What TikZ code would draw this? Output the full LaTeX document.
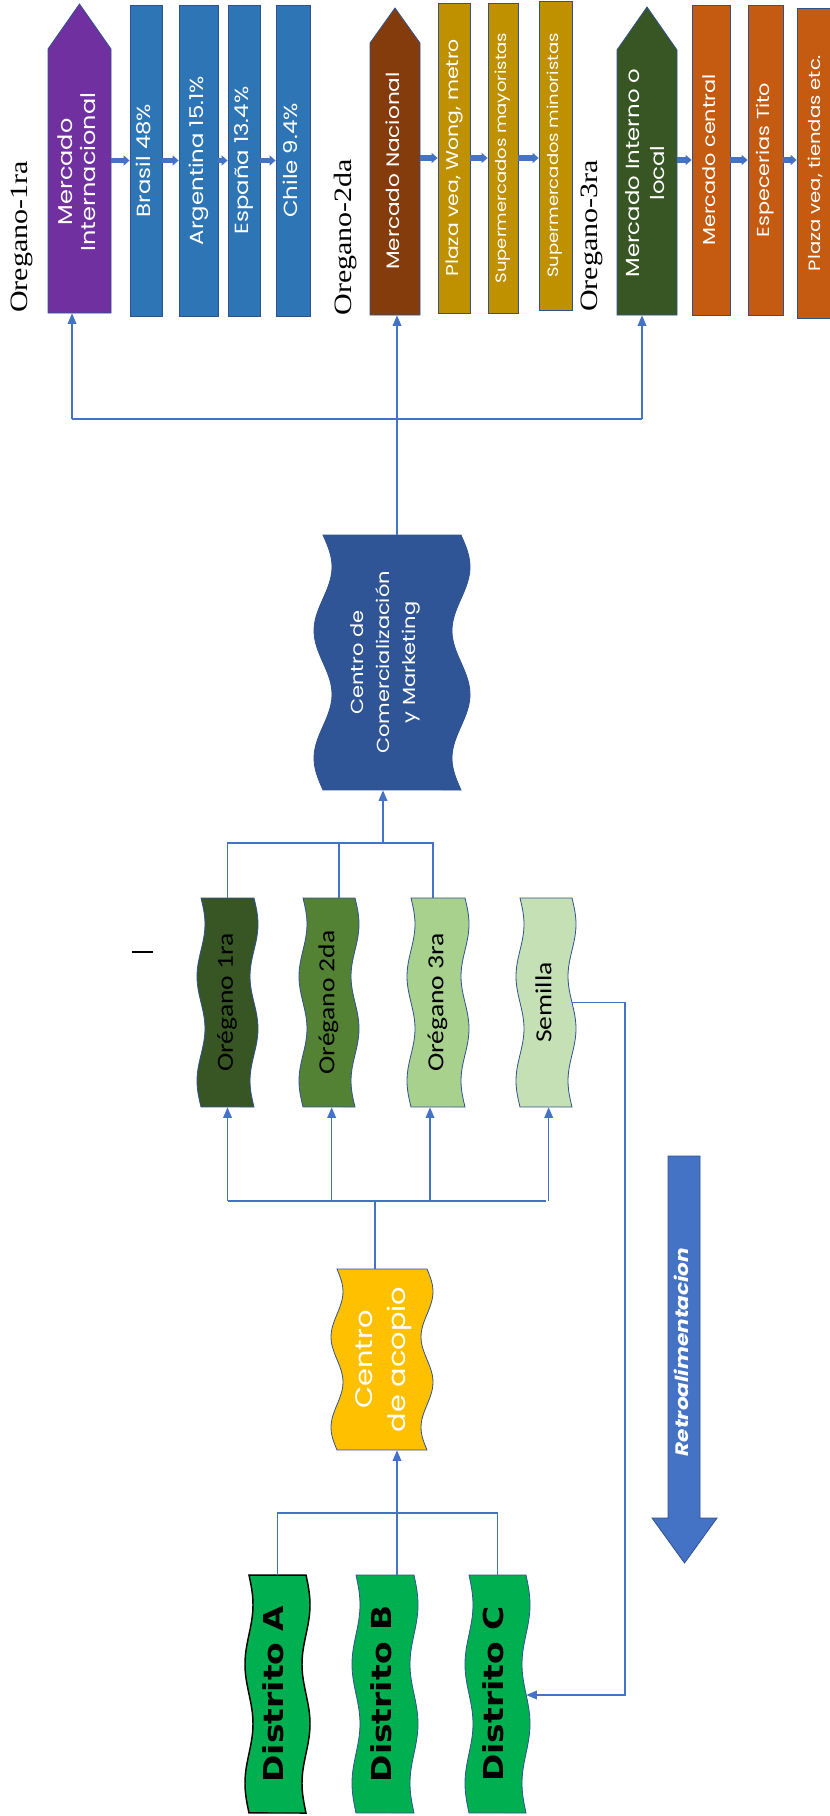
\documentclass[tikz,border=0pt]{standalone}
\usepackage{fontspec}
\usepackage{graphicx}
\usetikzlibrary{arrows.meta, positioning, calc}

\newfontfamily\poppins{Poppins}
\newfontfamily\carlito{Carlito}
\newfontfamily\dejavu{DejaVu Sans}
\newfontfamily\libserif{Liberation Serif}

\definecolor{cPurple}{HTML}{7030A0}
\definecolor{cBlue}{HTML}{2E75B6}
\definecolor{cBrown}{HTML}{843C0C}
\definecolor{cGold}{HTML}{BF9000}
\definecolor{cDkGreen}{HTML}{375623}
\definecolor{cOrange}{HTML}{C55A11}
\definecolor{cNavy}{HTML}{2F5597}
\definecolor{cGreenA}{HTML}{375623}
\definecolor{cGreenB}{HTML}{548235}
\definecolor{cGreenC}{HTML}{A9D18E}
\definecolor{cGreenD}{HTML}{C5E0B4}
\definecolor{cAmber}{HTML}{FFC000}
\definecolor{cDist}{HTML}{00B050}
\definecolor{cLink}{HTML}{4472C4}
\definecolor{cEdge}{HTML}{2F528F}

% text turned to read bottom-up, a little stretched
\newcommand{\vtext}[1]{\rotatebox{90}{\scalebox{1.2}[1]{\begin{tabular}{@{}c@{}}#1\end{tabular}}}}
\newcommand{\fsz}[2]{\fontsize{#1}{#2}\selectfont}

% wave box: name, x1, x2, y1, y2, amplitude, shape style, node style, text
\newcommand{\wavenode}[9]{%
  \draw[#7] plot[variable=\t, domain=0:1, samples=49, smooth] ({#2+#6*sin(720*\t)}, {#4+(#5-#4)*\t})
    -- plot[variable=\t, domain=1:0, samples=49, smooth] ({#3+#6*sin(720*\t)}, {#4+(#5-#4)*\t}) -- cycle;
  \node[wtext, #8, minimum width={(#3-#2)*0.75pt}, minimum height={(#5-#4)*0.75pt}] (#1) at ({(#2+#3)/2}, {(#4+#5)/2}) {#9};
}

\begin{document}
\begin{tikzpicture}[
        x=0.75pt, y=-0.75pt,
        box/.style={rectangle, draw=cEdge, line width=0.6pt, inner sep=0pt, text=white},
        mtext/.style={rectangle, inner sep=0pt, text=white},
        wtext/.style={rectangle, inner sep=0pt},
        edge/.style={draw=cEdge, line width=0.6pt},
        grade/.style={inner sep=0pt, font=\libserif\fsz{18.75pt}{22pt}},
        link/.style={draw=cLink, line width=1.1pt},
        arr/.style={link, -{Triangle[length=8pt, width=6.5pt]}},
        flow/.style={draw=cLink, line width=3.8pt, -{Triangle[length=4.5pt, width=7.5pt]}}
    ]
        \useasboundingbox (0,0) rectangle (830,1816);

        % markets (top row)
        \draw[edge, fill=cPurple] (48,313) -- (48,49) -- (79.5,4) -- (111,49) -- (111,313) -- cycle;
        \draw[edge, fill=cBrown] (370,315) -- (370,43) -- (395,8) -- (420,43) -- (420,315) -- cycle;
        \draw[edge, fill=cDkGreen] (617,315) -- (617,50) -- (647,7) -- (677,50) -- (677,315) -- cycle;

        \node[mtext, font=\poppins\fsz{15pt}{17.25pt}, minimum width=47.25pt, minimum height=211.5pt] (mint) at (79.5,172) {\vtext{Mercado\\Internacional}};
        \node[mtext, font=\poppins\fsz{13.5pt}{16pt}, minimum width=37.5pt, minimum height=216pt] (mnac) at (395,171) {\vtext{Mercado Nacional}};
        \node[mtext, font=\poppins\fsz{14.25pt}{18.4pt}, minimum width=45pt, minimum height=213pt] (mloc) at (647,173) {\vtext{Mercado Interno o\\local}};

        \node[grade] (g1) at (22,237) {\vtext{Oregano-1ra}};
        \node[grade] (g2) at (346,237) {\vtext{Oregano-2da}};
        \node[grade] (g3) at (592,236) {\vtext{Oregano-3ra}};

        \node[box, fill=cBlue, font=\poppins\fsz{14.25pt}{17pt}, minimum width=24pt, minimum height=233.25pt] (brasil) at (146,160.5) {\vtext{Brasil 48\%}};
        \node[box, fill=cBlue, font=\poppins\fsz{14.25pt}{17pt}, minimum width=29.25pt, minimum height=233.25pt] (argentina) at (198.5,160.5) {\vtext{Argentina 15.1\%}};
        \node[box, fill=cBlue, font=\poppins\fsz{14.25pt}{17pt}, minimum width=24pt, minimum height=233.25pt] (espana) at (244,160.5) {\vtext{España 13.4\%}};
        \node[box, fill=cBlue, font=\poppins\fsz{14.25pt}{17pt}, minimum width=25.5pt, minimum height=233.25pt] (chile) at (293,160.5) {\vtext{Chile 9.4\%}};

        \node[box, fill=cGold, font=\poppins\fsz{12.75pt}{15pt}, minimum width=24pt, minimum height=232.5pt] (plaza) at (454,158) {\vtext{Plaza vea, Wong, metro}};
        \node[box, fill=cGold, font=\poppins\fsz{11.25pt}{13pt}, minimum width=22.5pt, minimum height=232.5pt] (supmay) at (503,158) {\vtext{Supermercados mayoristas}};
        \node[box, fill=cGold, font=\poppins\fsz{11.25pt}{13pt}, minimum width=24.75pt, minimum height=231.75pt] (supmin) at (555.5,155.5) {\vtext{Supermercados minoristas}};

        \node[box, fill=cOrange, font=\poppins\fsz{13pt}{15pt}, minimum width=28.5pt, minimum height=232.5pt] (mcentral) at (711,160) {\vtext{Mercado central}};
        \node[box, fill=cOrange, font=\poppins\fsz{13pt}{15pt}, minimum width=26.25pt, minimum height=232.5pt] (tito) at (765.5,160) {\vtext{Especerias Tito}};
        \node[box, fill=cOrange, font=\poppins\fsz{12.25pt}{14pt}, minimum width=29.25pt, minimum height=232.5pt] (plazat) at (816.5,163) {\vtext{Plaza vea, tiendas etc.}};

        \draw[flow] (mint.east |- brasil.west) -- (brasil.west);
        \draw[flow] (brasil.east) -- (argentina.west);
        \draw[flow] (argentina.east) -- (espana.west);
        \draw[flow] (espana.east) -- (chile.west);
        \draw[flow] (mnac.east |- plaza.west) -- (plaza.west);
        \draw[flow] (plaza.east) -- (supmay.west);
        \draw[flow] (supmay.east) -- (supmin.west |- supmay.east);
        \draw[flow] (mloc.east |- mcentral.west) -- (mcentral.west);
        \draw[flow] (mcentral.east) -- (tito.west);
        \draw[flow] (tito.east) -- (plazat.west |- tito.east);

        % wave boxes
        \wavenode{centro}{323}{461}{535}{790}{9}{edge, fill=cNavy}{text=white, font=\poppins\fsz{13.1pt}{19.5pt}}{\vtext{Centro de\\Comercialización\\y Marketing}\hspace*{12pt}}
        \wavenode{oreg1}{201}{254}{898}{1107}{4}{edge, fill=cGreenA}{font=\carlito\fsz{17.25pt}{20pt}}{\vtext{Orégano 1ra}}
        \wavenode{oreg2}{303}{355}{898}{1107}{4}{edge, fill=cGreenB}{font=\carlito\fsz{17.25pt}{20pt}}{\vtext{Orégano 2da}}
        \wavenode{oreg3}{411}{465}{898}{1107}{4}{edge, fill=cGreenC}{font=\carlito\fsz{17.25pt}{20pt}}{\vtext{Orégano 3ra}}
        \wavenode{sem}{520}{572}{898}{1107}{4}{edge, fill=cGreenD}{font=\carlito\fsz{17.25pt}{20pt}}{\vtext{Semilla}}
        \wavenode{acopio}{337}{427}{1269}{1450}{6}{edge, fill=cAmber}{text=white, font=\poppins\fsz{18pt}{24.75pt}}{\vtext{Centro\\de acopio}}
        \wavenode{distA}{249}{306}{1575}{1813}{4}{draw=black, line width=1.1pt, fill=cDist}{font=\dejavu\bfseries\fsz{20.6pt}{24pt}}{\vtext{Distrito A}}
        \wavenode{distB}{356}{414}{1575}{1813}{4}{edge, fill=cDist}{font=\dejavu\bfseries\fsz{20.6pt}{24pt}}{\vtext{Distrito B}}
        \wavenode{distC}{469}{526}{1575}{1813}{4}{edge, fill=cDist}{font=\dejavu\bfseries\fsz{20.6pt}{24pt}}{\vtext{Distrito C}}

        % feedback arrow
        \draw[edge, fill=cLink] (668,1156) -- (700,1156) -- (700,1518) -- (717,1518) -- (684.5,1563) -- (652,1518) -- (668,1518) -- cycle;
        \node[text=white, font=\poppins\bfseries\itshape\fsz{13.5pt}{16pt}] (retro) at (684,1352) {\vtext{Retroalimentacion}};

        \draw[line width=1.2pt] (132,952) -- (153,952);

        % connectors
        \coordinate (hubM) at (397,419);
        \coordinate (hubC) at (383,843);
        \coordinate (hubO) at (375,1201);
        \coordinate (hubD) at (397,1513);
        \coordinate (fb) at (625,1695);

        \draw[arr] (hubM |- centro.north) -- (hubM |- mnac.south);
        \draw[link] ([xshift=-5.6pt]mint.south |- hubM) -- ([xshift=-3.75pt]mloc.south |- hubM);
        \draw[arr] ([xshift=-5.6pt]mint.south |- hubM) -- ([xshift=-5.6pt]mint.south);
        \draw[arr] ([xshift=-3.75pt]mloc.south |- hubM) -- ([xshift=-3.75pt]mloc.south);

        \draw[link] (oreg1.north) -- (oreg1.north |- hubC) -- ([xshift=-3.75pt]oreg3.north |- hubC) -- ([xshift=-3.75pt]oreg3.north);
        \draw[link] ([xshift=7.5pt]oreg2.north) -- ([xshift=7.5pt]oreg2.north |- hubC);
        \draw[arr] (hubC) -- (hubC |- centro.south);

        \draw[link] (hubO |- acopio.north) -- (hubO);
        \draw[link] (oreg1.south |- hubO) -- (sem.south |- hubO);
        \foreach \n/\dx in {oreg1/0pt, oreg2/2pt, oreg3/-6pt, sem/2pt}
            \draw[arr] ([xshift=\dx]\n.south |- hubO) -- ([xshift=\dx]\n.south);

        \draw[link] (distA.north) -- (distA.north |- hubD) -- (distC.north |- hubD) -- (distC.north);
        \draw[arr] (hubD |- distB.north) -- (hubD |- acopio.south);

        \draw[arr] (sem.east) -| (fb) -- (fb -| distC.east);
    \end{tikzpicture}
\end{document}
